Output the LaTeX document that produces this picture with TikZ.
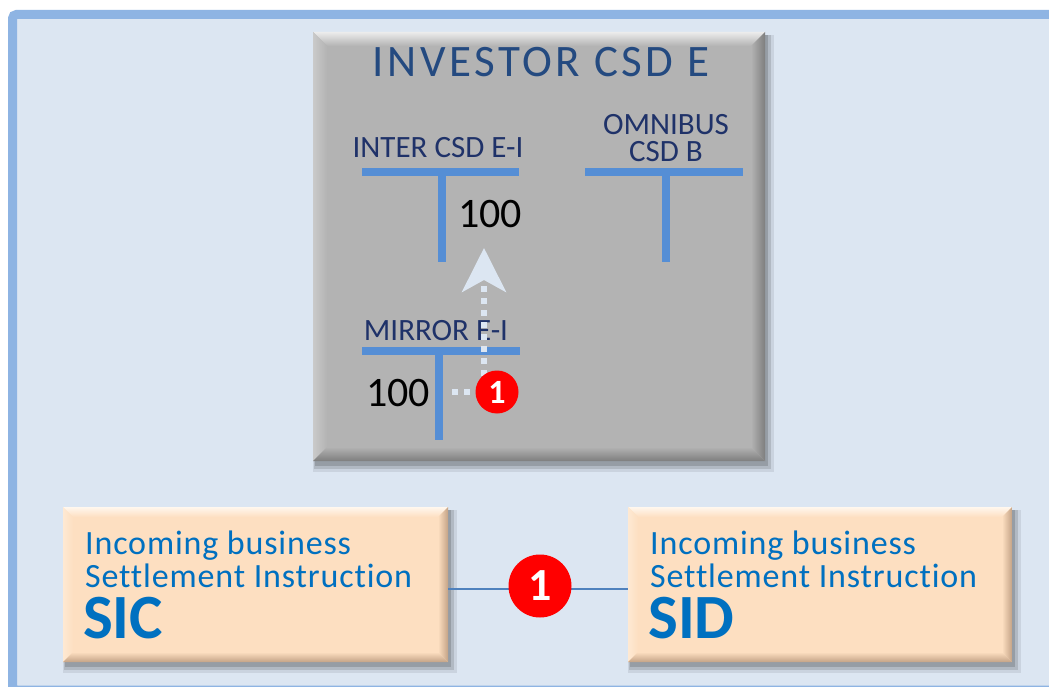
\documentclass[tikz,border=0pt]{standalone}
\usepackage{fontspec}
\setmainfont{Carlito}[Ligatures=CommonOff]
\usetikzlibrary{arrows.meta,calc}
\definecolor{bgc}{HTML}{DCE6F2}
\definecolor{framec}{HTML}{8EB4E3}
\definecolor{grayc}{HTML}{B3B3B3}
\definecolor{grayl}{HTML}{ECECEC}
\definecolor{grayd}{HTML}{7E7E7E}
\definecolor{peach}{HTML}{FDDFC1}
\definecolor{peachl}{HTML}{FFF7EE}
\definecolor{peachd}{HTML}{C4A386}
\definecolor{tbarc}{HTML}{558ED5}
\definecolor{titlec}{HTML}{244A80}
\definecolor{labc}{HTML}{1F3269}
\definecolor{boxtc}{HTML}{0070C0}
\definecolor{connc}{HTML}{4F81BD}
\definecolor{badgec}{HTML}{FF0000}
\definecolor{arrowc}{HTML}{DCE6F2}
\newcommand{\bvbox}[8]{%
  \fill[black,opacity=0.08] (#1+0,#2+3) rectangle (#3+9,#4+11);
  \fill[black,opacity=0.12] (#1+1,#2+3) rectangle (#3+6,#4+8);
  \fill[black,opacity=0.15] (#1+2,#2+3) rectangle (#3+3,#4+5);
  \fill[#5] (#1,#2) rectangle (#3,#4);
  \shade[top color=#6,bottom color=#5] (#1,#2) -- (#3,#2) -- (#3-#8,#2+#8) -- (#1+#8,#2+#8) -- cycle;
  \shade[left color=#5!60!#6,right color=#5] (#1,#2) -- (#1+#8,#2+#8) -- (#1+#8,#4-#8) -- (#1,#4) -- cycle;
  \shade[left color=#5,right color=#7] (#3,#2) -- (#3-#8,#2+#8) -- (#3-#8,#4-#8) -- (#3,#4) -- cycle;
  \shade[top color=#5,bottom color=#7] (#1,#4) -- (#1+#8,#4-#8) -- (#3-#8,#4-#8) -- (#3,#4) -- cycle;
}
\tikzset{
  tbar/.style={draw=tbarc,line width=8pt},
  title/.style={font=\fontsize{45}{48}\selectfont\addfontfeature{LetterSpace=8},text=titlec,anchor=base,inner sep=0pt},
  acct/.style={font=\fontsize{31}{28}\selectfont,text=labc,align=center,inner sep=0pt},
  amount/.style={font=\fontsize{42}{42}\selectfont,text=black,anchor=base,inner sep=0pt},
  boxtxt/.style={font=\fontsize{34}{34}\selectfont\addfontfeature{LetterSpace=2.5},text=boxtc,anchor=base west,inner sep=0pt},
  boxbig/.style={font=\bfseries\fontsize{63}{63}\selectfont,text=boxtc,anchor=base west,inner sep=0pt},
  badge/.style={circle,fill=badgec,text=white,inner sep=0pt,minimum size=43pt,font=\bfseries\fontsize{34}{34}\selectfont},
  bigbadge/.style={circle,fill=badgec,text=white,inner sep=0pt,minimum size=63pt,font=\bfseries\fontsize{46}{46}\selectfont},
  conn/.style={draw=connc,line width=2pt},
  dotarrow/.style={draw=arrowc,line width=6pt,dash pattern=on 6pt off 6pt,-{Stealth[length=44pt,width=44pt,inset=12pt]}},
}
\begin{document}
\begin{tikzpicture}[x=1pt,y=-1pt]
\useasboundingbox (0,0) rectangle (1049,687);
\fill[white] (0,0) rectangle (1049,687);
\draw[draw=framec,line width=9pt,fill=bgc,rounded corners=4pt] (12.5,14.5) rectangle (1065,690);

% Investor CSD E box
\bvbox{313}{32}{765}{461}{grayc}{grayl}{grayd}{14}
\node[title] (title) at (541,77) {INVESTOR CSD E};

% T accounts
\draw[tbar] (362,172) -- (519,172);
\draw[tbar] (442,172) -- (442,262);
\draw[tbar] (585,172) -- (743,172);
\draw[tbar] (666,172) -- (666,262);
\draw[tbar] (362,351) -- (520,351);
\draw[tbar] (439,351) -- (439,440);

\node[acct,anchor=base] (inter) at (438,158) {INTER CSD E-I};
\node[acct,anchor=base] (omni1) at (666,135) {OMNIBUS};
\node[acct,anchor=base] (omni2) at (666,162) {CSD B};
\node[acct,anchor=base] (mirror) at (436,340) {MIRROR E-I};
\node[amount] (amt1) at (490,227) {100};
\node[amount] (amt2) at (398,406) {100};

% dotted arrow
\coordinate (astart) at (452,392);
\coordinate (atip) at (484,248);
\draw[dotarrow] (astart) -| (atip);
\node[badge] (b1) at (497,392) {1};

% Settlement instruction boxes
\bvbox{63}{507}{448}{662}{peach}{peachl}{peachd}{10}
\bvbox{628}{507}{1012}{662}{peach}{peachl}{peachd}{10}
\node[minimum width=385pt,minimum height=155pt,inner sep=0pt] (sic) at (255.5,584.5) {};
\node[minimum width=384pt,minimum height=155pt,inner sep=0pt] (sid) at (820,584.5) {};
\node[boxtxt] (sic1) at (85,554) {Incoming business};
\node[boxtxt] (sic2) at (85,587) {Settlement Instruction};
\node[boxbig] (sic3) at (83,638) {SIC};
\node[boxtxt] (sid1) at (650,554) {Incoming business};
\node[boxtxt] (sid2) at (650,587) {Settlement Instruction};
\node[boxbig] (sid3) at (648,638) {SID};

\draw[conn] ($(sic.east)+(0,4.5)$) -- ($(sid.west)+(0,4.5)$);
\node[bigbadge] (b2) at (540,586) {1};
\end{tikzpicture}
\end{document}
